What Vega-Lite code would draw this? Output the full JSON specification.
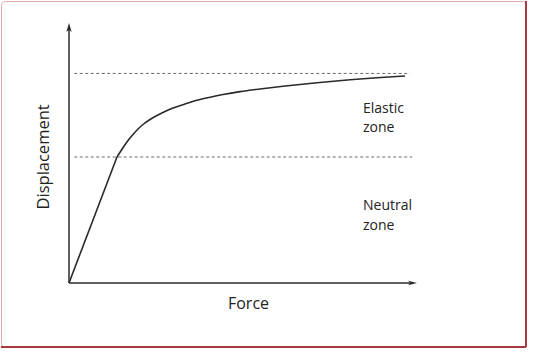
{
  "$schema": "https://vega.github.io/schema/vega-lite/v6.json",
  "width": 525,
  "height": 346,
  "autosize": {"type": "none"},
  "padding": {"left": 1, "top": 1, "right": 7, "bottom": 17},
  "background": "white",
  "config": {
    "view": {"stroke": "#dcaaab", "strokeWidth": 1, "cornerRadius": 4},
    "text": {"font": "Open Sans", "color": "#222222"}
  },
  "datasets": {
    "axes": [
      {"seg": "x", "x": 0, "y": 0}, {"seg": "x", "x": 9.9, "y": 0},
      {"seg": "y", "x": 0, "y": 0}, {"seg": "y", "x": 0, "y": 9.85}
    ],
    "tipx": [{"x": 10, "y": 0}],
    "tipy": [{"x": 0, "y": 10}],
    "dashes": [
      {"x": 0.15, "x2": 9.8, "y": 8.06},
      {"x": 0.15, "x2": 9.86, "y": 4.846}
    ],
    "curve": [
      {"part": "linear", "x": 0, "y": 0},
      {"part": "linear", "x": 1.379, "y": 4.846},
      {"part": "curve", "x": 1.379, "y": 4.846},
      {"part": "curve", "x": 1.494, "y": 5.085},
      {"part": "curve", "x": 1.609, "y": 5.315},
      {"part": "curve", "x": 1.724, "y": 5.527},
      {"part": "curve", "x": 1.839, "y": 5.712},
      {"part": "curve", "x": 1.983, "y": 5.923},
      {"part": "curve", "x": 2.126, "y": 6.096},
      {"part": "curve", "x": 2.328, "y": 6.288},
      {"part": "curve", "x": 2.529, "y": 6.442},
      {"part": "curve", "x": 2.759, "y": 6.596},
      {"part": "curve", "x": 2.989, "y": 6.731},
      {"part": "curve", "x": 3.333, "y": 6.885},
      {"part": "curve", "x": 3.678, "y": 7.027},
      {"part": "curve", "x": 4.052, "y": 7.146},
      {"part": "curve", "x": 4.425, "y": 7.25},
      {"part": "curve", "x": 4.914, "y": 7.362},
      {"part": "curve", "x": 5.489, "y": 7.462},
      {"part": "curve", "x": 6.149, "y": 7.565},
      {"part": "curve", "x": 7.126, "y": 7.7},
      {"part": "curve", "x": 8.075, "y": 7.815},
      {"part": "curve", "x": 8.851, "y": 7.892},
      {"part": "curve", "x": 9.655, "y": 7.962}
    ],
    "zones": [
      {"x": 8.448, "y": 6.54, "label": "Elastic"},
      {"x": 8.448, "y": 5.81, "label": "zone"},
      {"x": 8.448, "y": 2.81, "label": "Neutral"},
      {"x": 8.448, "y": 2.04, "label": "zone"}
    ],
    "xtitle": [{"x": 5.158, "y": -1.0, "label": "Force"}],
    "ytitle": [{"x": -0.72, "y": 4.85, "label": "Displacement"}]
  },
  "layer": [
    {
      "data": {"name": "dashes"},
      "mark": {"type": "rule", "strokeDash": [3, 2.5], "color": "#6a6a6a", "strokeWidth": 1},
      "encoding": {
        "x": {"field": "x", "type": "quantitative", "scale": {"domain": [-1.954, 13.132], "nice": false, "zero": false}, "axis": null},
        "x2": {"field": "x2"},
        "y": {"field": "y", "type": "quantitative", "scale": {"domain": [-2.4615, 10.846], "nice": false, "zero": false}, "axis": null}
      }
    },
    {
      "data": {"name": "axes"},
      "mark": {"type": "line", "color": "#2b2b2b", "strokeWidth": 1.5},
      "encoding": {
        "x": {"field": "x", "type": "quantitative"},
        "y": {"field": "y", "type": "quantitative"},
        "detail": {"field": "seg"}
      }
    },
    {
      "data": {"name": "tipy"},
      "mark": {"type": "point", "shape": "M0,0L0.6,2L0,1.5L-0.6,2Z", "size": 81, "filled": true, "color": "#2b2b2b", "opacity": 1},
      "encoding": {
        "x": {"field": "x", "type": "quantitative"},
        "y": {"field": "y", "type": "quantitative"}
      }
    },
    {
      "data": {"name": "tipx"},
      "mark": {"type": "point", "shape": "M0,0L-2,-0.5L-1.5,0L-2,0.5Z", "size": 81, "filled": true, "color": "#2b2b2b", "opacity": 1},
      "encoding": {
        "x": {"field": "x", "type": "quantitative"},
        "y": {"field": "y", "type": "quantitative"}
      }
    },
    {
      "data": {"name": "curve"},
      "mark": {"type": "line", "color": "#2a2a2a", "strokeWidth": 1.6, "interpolate": "monotone"},
      "encoding": {
        "x": {"field": "x", "type": "quantitative"},
        "y": {"field": "y", "type": "quantitative"},
        "detail": {"field": "part"}
      }
    },
    {
      "data": {"name": "zones"},
      "mark": {"type": "text", "align": "left", "baseline": "alphabetic", "fontSize": 14},
      "encoding": {
        "x": {"field": "x", "type": "quantitative"},
        "y": {"field": "y", "type": "quantitative"},
        "text": {"field": "label"}
      }
    },
    {
      "data": {"name": "xtitle"},
      "mark": {"type": "text", "align": "center", "baseline": "alphabetic", "fontSize": 16},
      "encoding": {
        "x": {"field": "x", "type": "quantitative"},
        "y": {"field": "y", "type": "quantitative"},
        "text": {"field": "label"}
      }
    },
    {
      "data": {"name": "ytitle"},
      "mark": {"type": "text", "align": "center", "baseline": "middle", "angle": 270, "fontSize": 16.5},
      "encoding": {
        "x": {"field": "x", "type": "quantitative"},
        "y": {"field": "y", "type": "quantitative"},
        "text": {"field": "label"}
      }
    },
    {
      "data": {"values": [{}]},
      "mark": {"type": "rule", "color": "#a8393d", "strokeWidth": 2},
      "encoding": {"x": {"datum": 13.132, "type": "quantitative"}}
    },
    {
      "data": {"values": [{}]},
      "mark": {"type": "rule", "color": "#a8393d", "strokeWidth": 2},
      "encoding": {"y": {"datum": -2.4615, "type": "quantitative"}}
    }
  ]
}
